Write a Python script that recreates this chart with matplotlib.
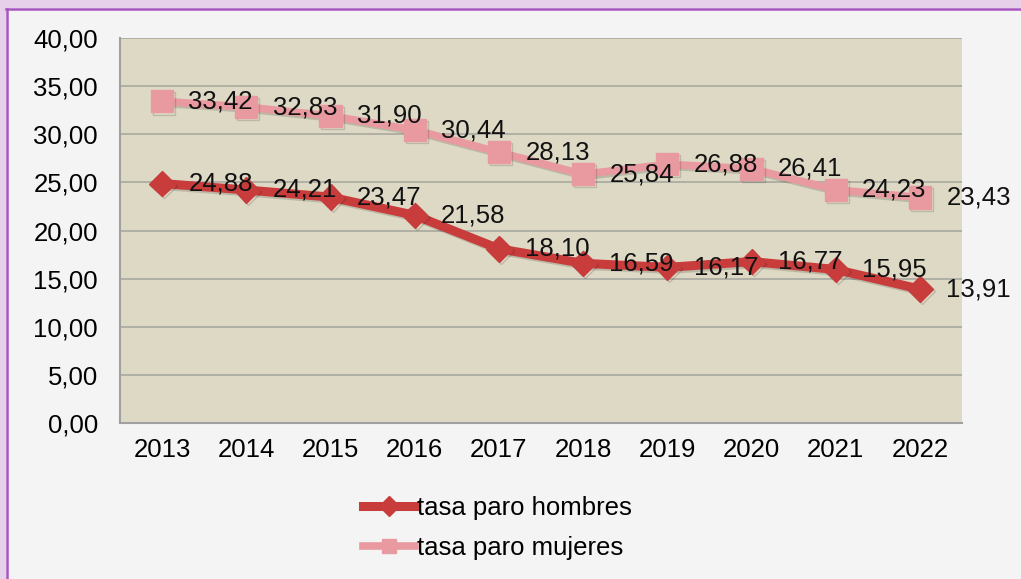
#Import libraries
import matplotlib
matplotlib.use("Agg")
import matplotlib.pyplot as plt
from matplotlib.patches import Rectangle
import matplotlib.patheffects as pe

#Data
years = ["2013", "2014", "2015", "2016", "2017", "2018", "2019", "2020", "2021", "2022"]
hombres = [24.88, 24.21, 23.47, 21.58, 18.10, 16.59, 16.17, 16.77, 15.95, 13.91]
mujeres = [33.42, 32.83, 31.90, 30.44, 28.13, 25.84, 26.88, 26.41, 24.23, 23.43]
y_ticks = [0, 5, 10, 15, 20, 25, 30, 35, 40]

plt.rcParams['font.family'] = ['Liberation Sans', 'DejaVu Sans']
FS = 18.5

def fmt(v):
    return f"{v:.2f}".replace('.', ',')

fig = plt.figure(figsize=(10.21, 5.79), dpi=100, facecolor='#f4f4f4')
W, H = 1021, 579

#Purple frame on top and left edge
fig.patches.append(Rectangle((0, 1 - 8/H), 1, 8/H, transform=fig.transFigure,
                             facecolor='#e6d0ea', edgecolor='none', zorder=0))
fig.patches.append(Rectangle((0, 0), 6/W, 1, transform=fig.transFigure,
                             facecolor='#e6d0ea', edgecolor='none', zorder=0))
fig.add_artist(plt.Line2D([6/W, 1.01], [1 - 8.5/H, 1 - 8.5/H], transform=fig.transFigure,
                          color='#a855c0', lw=1.8))
fig.add_artist(plt.Line2D([6.5/W, 6.5/W], [-0.01, 1 - 8.5/H], transform=fig.transFigure,
                          color='#a855c0', lw=1.8))

ax = fig.add_axes([120/W, 1 - 423/H, 842/W, 385/H])
ax.set_facecolor('#ddd9c4')
x = list(range(len(years)))

shadow = [pe.SimpleLineShadow(offset=(1.5, -1.5), alpha=0.15), pe.Normal()]
ax.plot(x, hombres, color='#c83c3c', lw=6.5, marker='D', markersize=13,
        label='tasa paro hombres', zorder=3, path_effects=shadow)
ax.plot(x, mujeres, color='#e99aa0', lw=5.5, marker='s', markersize=16,
        label='tasa paro mujeres', zorder=3, path_effects=shadow)

#Data labels to the right of every point
for xi, v in zip(x, hombres):
    ax.annotate(fmt(v), (xi, v), xytext=(19, 0), textcoords='offset points',
                ha='left', va='center', fontsize=FS, color='#111111', zorder=4)
for xi, v in zip(x, mujeres):
    ax.annotate(fmt(v), (xi, v), xytext=(19, 0), textcoords='offset points',
                ha='left', va='center', fontsize=FS, color='#111111', zorder=4)

ax.set_xlim(-0.5, len(years) - 0.5)
ax.set_ylim(0, 40)
ax.set_xticks(x)
ax.set_xticklabels(years, fontsize=FS)
ax.set_yticks(y_ticks)
ax.set_yticklabels([fmt(t) for t in y_ticks], fontsize=FS)
ax.tick_params(length=0)
ax.tick_params(axis='x', pad=11)
ax.tick_params(axis='y', pad=16)
ax.grid(axis='y', color='#a8a8a0', lw=1.2, zorder=1)
ax.set_axisbelow(True)
for s in ['top', 'right']:
    ax.spines[s].set_visible(False)
for s in ['left', 'bottom']:
    ax.spines[s].set_color('#a0a0a0')
    ax.spines[s].set_linewidth(1.5)

leg = fig.legend(loc='upper left', bbox_to_anchor=(340/W, 1 - 473/H), frameon=False,
                 fontsize=FS, handlelength=2.0, handletextpad=0.1, labelspacing=0.62)
for h in leg.legend_handles:
    h.set_markersize(10)
    h.set_path_effects([])

fig.savefig('out.png', dpi=100, facecolor=fig.get_facecolor())
